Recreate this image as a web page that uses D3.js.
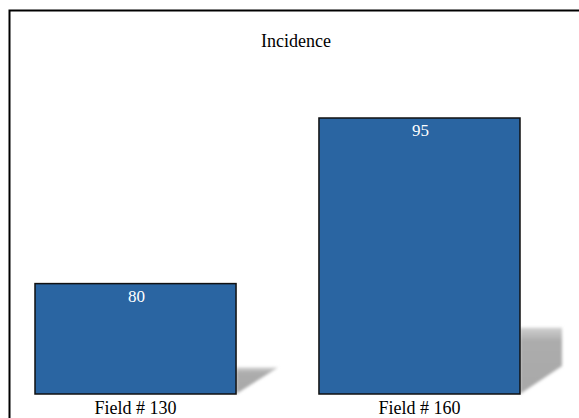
<!DOCTYPE html>
<html><head><meta charset="utf-8">
<script src="https://cdn.jsdelivr.net/npm/d3@7"></script>
<style>html,body{margin:0;padding:0;background:#fff;overflow:hidden}</style>
</head><body>
<script>
const title = "Incidence";
const categories = ["Field # 130", "Field # 160"];
const values = [80, 95];
const yDomain = [70, 100];

const W = 579, H = 418;
const svg = d3.select("body").append("svg").attr("width", W).attr("height", H);
const font = "'Liberation Serif','Times New Roman',serif";

const defs = svg.append("defs");
defs.append("filter").attr("id","blur").attr("x","-20%").attr("y","-20%").attr("width","140%").attr("height","140%")
  .append("feGaussianBlur").attr("stdDeviation", 1.6);
const grad = defs.append("linearGradient").attr("id","shgrad").attr("x1",0).attr("y1",0).attr("x2",0).attr("y2",1);
grad.append("stop").attr("offset","0%").attr("stop-color","#d0d0d0");
grad.append("stop").attr("offset","20%").attr("stop-color","#acacac");
grad.append("stop").attr("offset","100%").attr("stop-color","#a8a8a8");

svg.append("rect").attr("x", 9.5).attr("y", 10.5).attr("width", 700).attr("height", 500)
  .attr("fill", "none").attr("stroke", "#000").attr("stroke-width", 2);

const x = d3.scaleBand().domain(categories).range([35, 520]).paddingInner(0.292).paddingOuter(0);
const y = d3.scaleLinear().domain(yDomain).range([394, 394 - 30 * 11.04]);

svg.append("text").attr("x", 296).attr("y", 47).attr("text-anchor","middle")
  .attr("font-family", font).attr("font-size", 18).attr("fill","#000").text(title);

const data = categories.map((c, i) => ({c, v: values[i]}));
const base = y(yDomain[0]);

// shadows
svg.selectAll("path.sh").data(data).enter().append("path")
  .attr("fill","url(#shgrad)").attr("filter","url(#blur)")
  .attr("d", d => {
    const R = x(d.c) + x.bandwidth(), B = base, h = B - y(d.v);
    const top = B - 0.24 * h;
    const sw = 42, drop = 28;
    const xi = R + Math.min(sw, sw * (B - top) / drop);
    const yr = Math.max(B - drop, top);
    return `M${R},${B}L${R},${top}L${xi},${top}L${R+sw},${yr}Z`;
  });

svg.selectAll("rect.bar").data(data).enter().append("rect")
  .attr("x", d => x(d.c)).attr("y", d => y(d.v))
  .attr("width", x.bandwidth()).attr("height", d => base - y(d.v))
  .attr("fill", "#2a65a2").attr("stroke", "#111").attr("stroke-width", 1.5);

svg.selectAll("text.val").data(data).enter().append("text")
  .attr("x", d => x(d.c) + x.bandwidth()/2 + 1).attr("y", d => y(d.v) + 18)
  .attr("text-anchor","middle").attr("font-family", font).attr("font-size", 17)
  .attr("fill","#fff").text(d => d.v);

const xAxis = svg.append("g").attr("transform", `translate(0,${base})`)
  .call(d3.axisBottom(x).tickSize(0).tickPadding(7));
xAxis.select(".domain").remove();
xAxis.selectAll("text").attr("font-family", font).attr("font-size", 18).attr("fill","#000");
</script>
</body></html>
